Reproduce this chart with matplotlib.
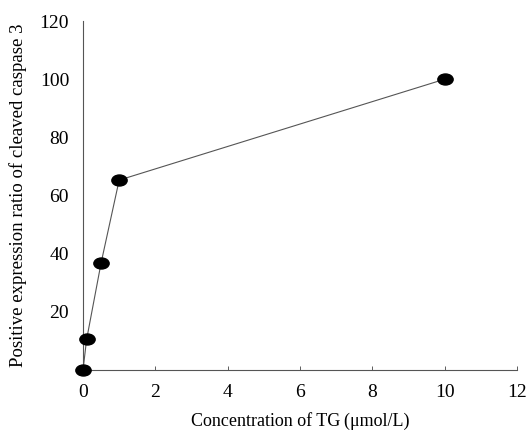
import numpy as np
import matplotlib
matplotlib.use("Agg")
import matplotlib.pyplot as plt
from matplotlib.path import Path
from matplotlib.transforms import Affine2D

# data
conc = [0, 0.1, 0.5, 1, 10]
ratio = [0, 10.5, 36.8, 65.3, 100]
xticks = [0, 2, 4, 6, 8, 10, 12]
yticks = [20, 40, 60, 80, 100, 120]

plt.rcParams['font.family'] = ['Liberation Serif', 'DejaVu Serif']

# slightly flattened dot marker
ellipse = Path.unit_circle().transformed(Affine2D().scale(1.0, 0.72))

fig = plt.figure(figsize=(5.27, 4.34), dpi=100)
ax = fig.add_axes([0.1575, 0.1475, 0.8235, 0.804])

ax.plot(conc, ratio, color='#555555', lw=0.8, zorder=2)
ax.plot(conc, ratio, ls='none', marker=ellipse, ms=11, color='black',
        clip_on=False, zorder=3)

ax.set_xlim(0, 12)
ax.set_ylim(0, 120)
ax.set_xticks(xticks)
ax.set_yticks(yticks)
ax.tick_params(direction='in', length=3, width=0.6, colors='#444444',
               labelcolor='black', labelsize=14)
ax.tick_params(axis='x', pad=10)
ax.tick_params(axis='y', pad=10, length=0)

for s in ['top', 'right']:
    ax.spines[s].set_visible(False)
for s in ['left', 'bottom']:
    ax.spines[s].set_color('#555555')
    ax.spines[s].set_linewidth(0.8)

ax.set_xlabel('Concentration of TG\u2009(\u03bcmol/L)', fontsize=13, labelpad=8)
ax.set_ylabel('Positive expression ratio of cleaved caspase 3', fontsize=13.5, labelpad=9)

fig.savefig('out.png', dpi=100)
